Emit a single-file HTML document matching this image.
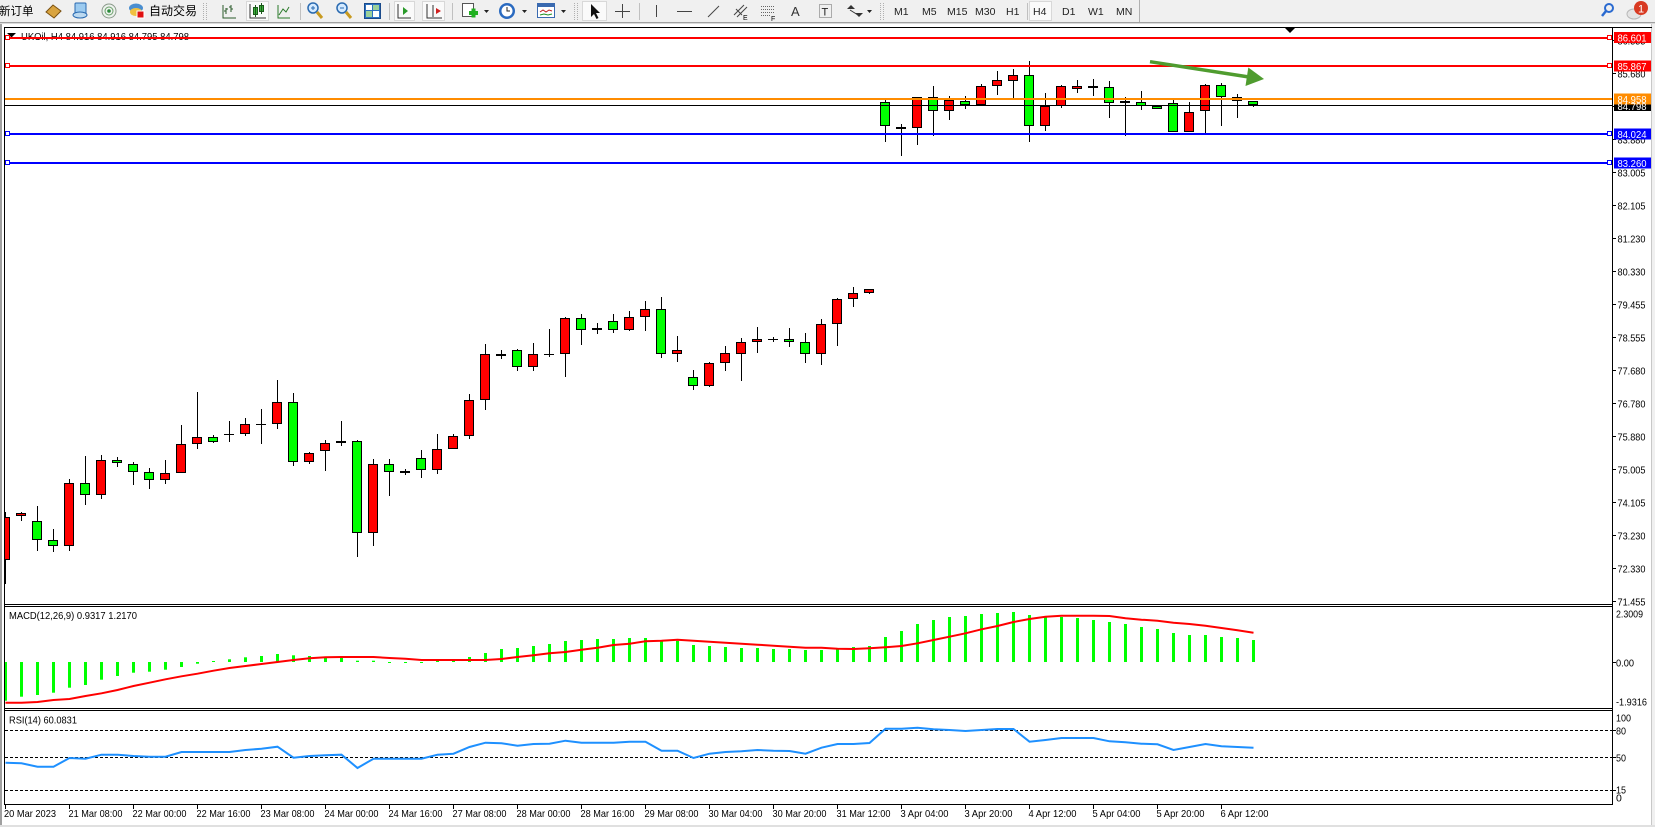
<!DOCTYPE html>
<html><head><meta charset="utf-8"><style>
html,body{margin:0;padding:0;background:#fff;width:1655px;height:827px;overflow:hidden}
svg{display:block}
text{font-family:"Liberation Sans","Noto Sans CJK SC",sans-serif}
</style></head><body>
<svg xmlns="http://www.w3.org/2000/svg" width="1655" height="827" viewBox="0 0 1655 827">
<defs>
<clipPath id="cm"><rect x="5" y="28" width="1607" height="576"/></clipPath>
<clipPath id="cd"><rect x="5" y="607" width="1607" height="101"/></clipPath>
<clipPath id="cr"><rect x="5" y="711" width="1607" height="93"/></clipPath>
</defs>
<rect width="1655" height="827" fill="#fff"/>
<!-- toolbar -->
<rect x="0" y="0" width="1655" height="22" fill="#f0f0f0"/>
<rect x="0" y="22" width="1655" height="1" fill="#a0a0a0"/>
<rect x="0" y="23" width="1655" height="1" fill="#dadada"/>
<g font-size="11.5" fill="#000">
<text x="-1" y="15" font-size="11.5">新订单</text>
<text x="149" y="15" font-size="12">自动交易</text>
</g>
<polygon points="46,12 53,5 61,11 54,18" fill="#d9a440" stroke="#7a5010"/>
<rect x="75" y="3" width="11" height="13" rx="1" fill="#9ccbf0" stroke="#2a6ab0"/>
<ellipse cx="80" cy="15" rx="7" ry="3" fill="#bcd9f0" stroke="#2a6ab0"/>
<circle cx="109" cy="11" r="7" fill="#eef2ee" stroke="#8a9a8a"/>
<circle cx="109" cy="11" r="4" fill="none" stroke="#6aa06a"/>
<circle cx="109" cy="11" r="1.8" fill="#2a8a3a"/>
<ellipse cx="136" cy="8" rx="7" ry="4.5" fill="#4a8ed0"/>
<ellipse cx="136" cy="12" rx="6" ry="4" fill="#f0c040"/>
<rect x="137" y="11" width="7" height="7" fill="#e01010" stroke="#fff"/>
<g stroke="#b0b0b0"><line x1="203.5" y1="3" x2="203.5" y2="20" stroke-dasharray="1,1"/><line x1="206.5" y1="3" x2="206.5" y2="20" stroke-dasharray="1,1"/></g>
<path d="M223 5V18H236 M226 14V8 M224 11H226 M226 9H228 M231 12V5 M229 7H231 M231 9H233" stroke="#2a5a2a" fill="none"/>
<rect x="246.5" y="1.5" width="22" height="19" fill="#fafafa" stroke="#d8d8d8"/>
<path d="M250 4V18H266" stroke="#333" fill="none"/>
<rect x="253.5" y="7.5" width="4" height="7" fill="#3ab03a" stroke="#1a5a1a"/><line x1="255.5" y1="5" x2="255.5" y2="17" stroke="#1a5a1a"/>
<rect x="259.5" y="5.5" width="4" height="6" fill="#3ab03a" stroke="#1a5a1a"/><line x1="261.5" y1="3" x2="261.5" y2="14" stroke="#1a5a1a"/>
<path d="M278 5V18H290 M279 15L283 9L286 12L289 7" stroke="#2a7a2a" fill="none"/>
<line x1="300.5" y1="3" x2="300.5" y2="20" stroke="#c0c0c0"/>
<circle cx="313" cy="8" r="5" fill="#d4eaff" stroke="#2a6ab0" stroke-width="1.5"/><path d="M311 8h4M313 6v4" stroke="#2a6ab0"/><line x1="317" y1="12" x2="322" y2="18" stroke="#c89a20" stroke-width="3"/>
<circle cx="342" cy="8" r="5" fill="#d4eaff" stroke="#2a6ab0" stroke-width="1.5"/><path d="M340 8h4" stroke="#2a6ab0"/><line x1="346" y1="12" x2="351" y2="18" stroke="#c89a20" stroke-width="3"/>
<rect x="364.5" y="3.5" width="16" height="15" fill="#2a70c0" stroke="#1a4a8a"/>
<rect x="366" y="5" width="6" height="5" fill="#fff"/><rect x="373" y="5" width="6" height="5" fill="#9ad09a"/><rect x="366" y="11" width="6" height="6" fill="#9ad09a"/><rect x="373" y="11" width="6" height="6" fill="#fff"/>
<line x1="389.5" y1="3" x2="389.5" y2="20" stroke="#c0c0c0"/>
<rect x="394.5" y="1.5" width="20" height="19" fill="#fafafa" stroke="#d8d8d8"/>
<path d="M398 4V18H411" stroke="#333" fill="none"/><polygon points="403,7 408,11 403,15" fill="#2a9a2a"/>
<rect x="422.5" y="1.5" width="22" height="19" fill="#fafafa" stroke="#d8d8d8"/>
<path d="M427 4V18H442 M433 5V17" stroke="#333" fill="none"/><polygon points="441,11 436,8 436,14" fill="#d02020"/>
<line x1="452.5" y1="3" x2="452.5" y2="20" stroke="#c0c0c0"/>
<rect x="462.5" y="3.5" width="11" height="13" fill="#fff" stroke="#555"/><path d="M469 13h9M473.5 8.5v9" stroke="#20b020" stroke-width="4"/>
<polygon points="484,10 489,10 486.5,13" fill="#222"/>
<circle cx="507" cy="11" r="8" fill="#2a6ac0"/><circle cx="507" cy="11" r="5.5" fill="#fff"/><path d="M507 7V11H510" stroke="#222" fill="none"/>
<polygon points="522,10 527,10 524.5,13" fill="#222"/>
<rect x="537.5" y="3.5" width="17" height="14" fill="#fff" stroke="#3a6ab0"/><rect x="538" y="4" width="16" height="3" fill="#3a6ab0"/><path d="M540 12l3-2 3 2 3-2 3 1" stroke="#c02020" fill="none"/><path d="M540 15l4-1 4 1 4-1" stroke="#209020" fill="none"/>
<polygon points="561,10 566,10 563.5,13" fill="#222"/>
<g stroke="#b0b0b0"><line x1="574.5" y1="3" x2="574.5" y2="20" stroke-dasharray="1,1"/><line x1="577.5" y1="3" x2="577.5" y2="20" stroke-dasharray="1,1"/></g>
<rect x="582.5" y="1.5" width="24" height="19" fill="#fafafa" stroke="#d8d8d8"/>
<polygon points="591,4 591,17 594,14 596.5,19 598.5,18 596,13 600,13" fill="#111"/>
<path d="M622.5 4V18 M615 11.5H630" stroke="#444"/>
<line x1="639.5" y1="3" x2="639.5" y2="20" stroke="#c0c0c0"/>
<line x1="656.5" y1="5" x2="656.5" y2="17" stroke="#444"/>
<line x1="677" y1="11.5" x2="692" y2="11.5" stroke="#444"/>
<line x1="708" y1="17" x2="719" y2="6" stroke="#444"/>
<path d="M734 15L744 5 M737 17L747 7 M736 9l6 6" stroke="#444" fill="none"/><text x="743" y="20" font-size="7">E</text>
<path d="M761 6.5h14M761 9.5h14M761 12.5h14M761 15.5h10" stroke="#666" stroke-dasharray="1,1"/><text x="771" y="21" font-size="7">F</text>
<text x="791" y="16" font-size="13" fill="#333">A</text>
<rect x="819.5" y="4.5" width="12" height="13" fill="none" stroke="#666" stroke-dasharray="1,1"/><text x="821.5" y="15.5" font-size="11" fill="#222">T</text>
<path d="M847 9l4-4 4 4z M855 13l4 4 4-4z" fill="#333"/><line x1="850" y1="10" x2="858" y2="15" stroke="#333"/>
<polygon points="867,10 872,10 869.5,13" fill="#222"/>
<g stroke="#b0b0b0"><line x1="880.5" y1="3" x2="880.5" y2="20" stroke-dasharray="1,1"/><line x1="883.5" y1="3" x2="883.5" y2="20" stroke-dasharray="1,1"/></g>
<rect x="1029.5" y="1.5" width="22" height="19" fill="#fafafa" stroke="#d8d8d8"/>
<g font-size="10.5" fill="#222">
<text x="894" y="15">M1</text><text x="922" y="15">M5</text><text x="947" y="15">M15</text><text x="975" y="15">M30</text><text x="1006" y="15">H1</text>
<text x="1033" y="15">H4</text><text x="1062" y="15">D1</text><text x="1088" y="15">W1</text><text x="1116" y="15">MN</text>
</g>
<line x1="1027.5" y1="3" x2="1027.5" y2="20" stroke="#c0c0c0"/>
<line x1="1139.5" y1="0" x2="1139.5" y2="22" stroke="#b0b0b0"/>
<circle cx="1609" cy="8" r="4" fill="none" stroke="#2a6ad0" stroke-width="2"/><line x1="1606" y1="11" x2="1602" y2="16" stroke="#2a6ad0" stroke-width="2.5"/>
<ellipse cx="1634" cy="14" rx="7" ry="5" fill="#e4e4e4" stroke="#b8b8b8"/>
<circle cx="1641" cy="8" r="7" fill="#d83a22"/><text x="1638" y="12.5" font-size="11" fill="#fff">1</text>

<!-- window frame -->
<rect x="0" y="24" width="2" height="803" fill="#a0a0a0"/>
<rect x="1651" y="24" width="4" height="803" fill="#f0f0f0"/>
<rect x="1651" y="24" width="1" height="803" fill="#c8c8c8"/>
<rect x="0" y="825" width="1655" height="2" fill="#e0e0e0"/>

<!-- chart frame -->
<rect x="4" y="27" width="1648" height="1" fill="#000"/>
<rect x="4" y="27" width="1" height="778" fill="#000"/>
<rect x="1612" y="27" width="1" height="778" fill="#000"/>
<rect x="4" y="604" width="1609" height="1" fill="#000"/>
<rect x="4" y="606" width="1609" height="1" fill="#000"/>
<rect x="4" y="708" width="1609" height="1" fill="#000"/>
<rect x="4" y="710" width="1609" height="1" fill="#000"/>
<rect x="4" y="804" width="1609" height="1" fill="#000"/>

<!-- title -->
<text x="21" y="40" font-size="10.5" fill="#000" textLength="168" lengthAdjust="spacingAndGlyphs">UKOil, H4  84.916 84.916 84.795 84.798</text>
<polygon points="7,33 16,33 11.5,37.5" fill="#000"/>
<polygon points="1285,28 1295,28 1290,33" fill="#000"/>

<!-- candles -->
<g clip-path="url(#cm)">
<path fill="none" stroke="#000" stroke-width="1" d="M5.5 512V584 M21.5 512V521 M37.5 506V551 M53.5 529V552 M69.5 479V551 M85.5 456V505 M101.5 455V499 M117.5 457V467 M133.5 462V485 M149.5 468V489 M165.5 460V484 M181.5 425V473 M197.5 392V449 M213.5 435V443 M229.5 421V442 M245.5 418V436 M261.5 409V444 M277.5 380V429 M293.5 393V466 M309.5 452V464 M325.5 440V471 M341.5 421V446 M357.5 440V557 M373.5 459V546 M389.5 459V496 M405.5 469V475 M421.5 450V478 M437.5 434V474 M453.5 434V449 M469.5 394V439 M485.5 344V410 M501.5 350V359 M517.5 349V371 M533.5 343V371 M549.5 329V357 M565.5 317V377 M581.5 314V345 M597.5 323V334 M613.5 314V333 M629.5 311V331 M645.5 301V331 M661.5 297V358 M677.5 336V362 M693.5 370V390 M709.5 362V387 M725.5 346V371 M741.5 338V381 M757.5 327V353 M773.5 337V342 M789.5 328V347 M805.5 333V363 M821.5 319V365 M837.5 298V346 M853.5 287V307 M869.5 289V294 M885.5 100V142 M901.5 124V156 M917.5 97V145 M933.5 86V136 M949.5 96V120 M965.5 96V109 M981.5 84V105 M997.5 71V95 M1013.5 69V98 M1029.5 61V142 M1045.5 93V131 M1061.5 85V108 M1077.5 80V93 M1093.5 79V96 M1109.5 81V118 M1125.5 97V136 M1141.5 91V110 M1157.5 106V109 M1173.5 100V132 M1189.5 102V132 M1205.5 84V133 M1221.5 83V126 M1237.5 94V118 M1253.5 101V107"/>
<path fill="none" stroke="#000" stroke-width="1" d="M224 434.5H234 M256 424.5H266 M544 354.5H554 M768 339.5H778"/>
<path fill="none" stroke="#000" stroke-width="2" d="M400 472H410 M496 355H506 M896 128H906 M1088 87H1098"/>
<g fill="#ff0000" stroke="#000" stroke-width="1">
<rect x="0.5" y="517.5" width="9" height="42"/>
<rect x="16.5" y="513.5" width="9" height="2"/>
<rect x="64.5" y="483.5" width="9" height="62"/>
<rect x="96.5" y="460.5" width="9" height="34"/>
<rect x="160.5" y="473.5" width="9" height="6"/>
<rect x="176.5" y="444.5" width="9" height="28"/>
<rect x="192.5" y="437.5" width="9" height="6"/>
<rect x="240.5" y="424.5" width="9" height="9"/>
<rect x="272.5" y="402.5" width="9" height="21"/>
<rect x="304.5" y="453.5" width="9" height="8"/>
<rect x="320.5" y="443.5" width="9" height="7"/>
<rect x="336.5" y="441.5" width="9" height="1"/>
<rect x="368.5" y="464.5" width="9" height="68"/>
<rect x="432.5" y="449.5" width="9" height="20"/>
<rect x="448.5" y="436.5" width="9" height="12"/>
<rect x="464.5" y="400.5" width="9" height="35"/>
<rect x="480.5" y="354.5" width="9" height="45"/>
<rect x="528.5" y="354.5" width="9" height="12"/>
<rect x="560.5" y="318.5" width="9" height="35"/>
<rect x="592.5" y="328.5" width="9" height="1"/>
<rect x="624.5" y="317.5" width="9" height="12"/>
<rect x="640.5" y="309.5" width="9" height="7"/>
<rect x="672.5" y="350.5" width="9" height="3"/>
<rect x="704.5" y="363.5" width="9" height="22"/>
<rect x="720.5" y="353.5" width="9" height="9"/>
<rect x="736.5" y="342.5" width="9" height="11"/>
<rect x="752.5" y="339.5" width="9" height="2"/>
<rect x="816.5" y="324.5" width="9" height="29"/>
<rect x="832.5" y="299.5" width="9" height="24"/>
<rect x="848.5" y="293.5" width="9" height="5"/>
<rect x="864.5" y="289.5" width="9" height="3"/>
<rect x="912.5" y="97.5" width="9" height="30"/>
<rect x="944.5" y="100.5" width="9" height="10"/>
<rect x="976.5" y="86.5" width="9" height="18"/>
<rect x="992.5" y="80.5" width="9" height="5"/>
<rect x="1008.5" y="75.5" width="9" height="5"/>
<rect x="1040.5" y="106.5" width="9" height="19"/>
<rect x="1056.5" y="86.5" width="9" height="19"/>
<rect x="1072.5" y="86.5" width="9" height="2"/>
<rect x="1120.5" y="101.5" width="9" height="1"/>
<rect x="1184.5" y="112.5" width="9" height="19"/>
<rect x="1200.5" y="85.5" width="9" height="25"/>
</g>
<g fill="#00ff00" stroke="#000" stroke-width="1">
<rect x="32.5" y="521.5" width="9" height="18"/>
<rect x="48.5" y="540.5" width="9" height="5"/>
<rect x="80.5" y="483.5" width="9" height="11"/>
<rect x="112.5" y="460.5" width="9" height="2"/>
<rect x="128.5" y="464.5" width="9" height="7"/>
<rect x="144.5" y="472.5" width="9" height="7"/>
<rect x="208.5" y="437.5" width="9" height="4"/>
<rect x="288.5" y="402.5" width="9" height="59"/>
<rect x="352.5" y="441.5" width="9" height="91"/>
<rect x="384.5" y="464.5" width="9" height="7"/>
<rect x="416.5" y="458.5" width="9" height="11"/>
<rect x="512.5" y="350.5" width="9" height="16"/>
<rect x="576.5" y="318.5" width="9" height="11"/>
<rect x="608.5" y="321.5" width="9" height="8"/>
<rect x="656.5" y="309.5" width="9" height="44"/>
<rect x="688.5" y="377.5" width="9" height="8"/>
<rect x="784.5" y="339.5" width="9" height="2"/>
<rect x="800.5" y="342.5" width="9" height="11"/>
<rect x="880.5" y="102.5" width="9" height="23"/>
<rect x="928.5" y="97.5" width="9" height="13"/>
<rect x="960.5" y="101.5" width="9" height="3"/>
<rect x="1024.5" y="75.5" width="9" height="50"/>
<rect x="1104.5" y="87.5" width="9" height="15"/>
<rect x="1136.5" y="102.5" width="9" height="3"/>
<rect x="1152.5" y="106.5" width="9" height="2"/>
<rect x="1168.5" y="103.5" width="9" height="28"/>
<rect x="1216.5" y="85.5" width="9" height="11"/>
<rect x="1232.5" y="97.5" width="9" height="3"/>
<rect x="1248.5" y="101.5" width="9" height="3"/>
</g>
</g>

<!-- price level lines -->
<rect x="5" y="105" width="1607" height="1" fill="#000"/>
<rect x="5" y="37" width="1607" height="2" fill="#ff0000"/>
<rect x="5" y="65" width="1607" height="2" fill="#ff0000"/>
<rect x="5" y="98" width="1607" height="2" fill="#ff8c00"/>
<rect x="5" y="133" width="1607" height="2" fill="#0000ff"/>
<rect x="5" y="162" width="1607" height="2" fill="#0000ff"/>
<g fill="#fff" stroke-width="1">
<rect x="5.5" y="35.5" width="4" height="4" stroke="#ff0000"/><rect x="1607.5" y="35.5" width="4" height="4" stroke="#ff0000"/>
<rect x="5.5" y="63.5" width="4" height="4" stroke="#ff0000"/><rect x="1607.5" y="63.5" width="4" height="4" stroke="#ff0000"/>
<rect x="5.5" y="131.5" width="4" height="4" stroke="#0000ff"/><rect x="1607.5" y="131.5" width="4" height="4" stroke="#0000ff"/>
<rect x="5.5" y="160.5" width="4" height="4" stroke="#0000ff"/><rect x="1607.5" y="160.5" width="4" height="4" stroke="#0000ff"/>
</g>

<!-- green arrow -->
<line x1="1150" y1="61.7" x2="1249" y2="77" stroke="#4f9c2f" stroke-width="3.5"/>
<polygon points="1264,79 1248.3,67.5 1245.5,86" fill="#4f9c2f"/>

<!-- price axis -->
<g stroke="#000">
<path d="M1613 40.5h3M1613 73.5h3M1613 106.5h3M1613 139.5h3M1613 172.5h3M1613 205.5h3M1613 238.5h3M1613 271.5h3M1613 304.5h3M1613 337.5h3M1613 370.5h3M1613 403.5h3M1613 436.5h3M1613 469.5h3M1613 502.5h3M1613 535.5h3M1613 568.5h3M1613 601.5h3"/>
</g>
<g font-size="10.5" fill="#000">
<text x="1617.5" y="44.3" textLength="28" lengthAdjust="spacingAndGlyphs">86.555</text>
<text x="1617.5" y="77.3" textLength="28" lengthAdjust="spacingAndGlyphs">85.680</text>
<text x="1617.5" y="110.3" textLength="28" lengthAdjust="spacingAndGlyphs">84.780</text>
<text x="1617.5" y="143.3" textLength="28" lengthAdjust="spacingAndGlyphs">83.880</text>
<text x="1617.5" y="176.3" textLength="28" lengthAdjust="spacingAndGlyphs">83.005</text>
<text x="1617.5" y="209.3" textLength="28" lengthAdjust="spacingAndGlyphs">82.105</text>
<text x="1617.5" y="242.3" textLength="28" lengthAdjust="spacingAndGlyphs">81.230</text>
<text x="1617.5" y="275.3" textLength="28" lengthAdjust="spacingAndGlyphs">80.330</text>
<text x="1617.5" y="308.3" textLength="28" lengthAdjust="spacingAndGlyphs">79.455</text>
<text x="1617.5" y="341.3" textLength="28" lengthAdjust="spacingAndGlyphs">78.555</text>
<text x="1617.5" y="374.3" textLength="28" lengthAdjust="spacingAndGlyphs">77.680</text>
<text x="1617.5" y="407.3" textLength="28" lengthAdjust="spacingAndGlyphs">76.780</text>
<text x="1617.5" y="440.3" textLength="28" lengthAdjust="spacingAndGlyphs">75.880</text>
<text x="1617.5" y="473.3" textLength="28" lengthAdjust="spacingAndGlyphs">75.005</text>
<text x="1617.5" y="506.3" textLength="28" lengthAdjust="spacingAndGlyphs">74.105</text>
<text x="1617.5" y="539.3" textLength="28" lengthAdjust="spacingAndGlyphs">73.230</text>
<text x="1617.5" y="572.3" textLength="28" lengthAdjust="spacingAndGlyphs">72.330</text>
<text x="1617.5" y="605.3" textLength="28" lengthAdjust="spacingAndGlyphs">71.455</text>
</g>
<!-- level label boxes -->
<rect x="1614" y="32" width="37" height="11" fill="#ff0000"/>
<rect x="1614" y="60.5" width="37" height="11" fill="#ff0000"/>
<rect x="1614" y="100" width="37" height="11" fill="#000"/>
<rect x="1614" y="93.5" width="37" height="11" fill="#ff8c00"/>
<rect x="1614" y="128.5" width="37" height="11" fill="#0000ff"/>
<rect x="1614" y="157.5" width="37" height="11" fill="#0000ff"/>
<g font-size="10.5" fill="#fff">
<text x="1617.5" y="41.5" textLength="29" lengthAdjust="spacingAndGlyphs">86.601</text>
<text x="1617.5" y="70" textLength="29" lengthAdjust="spacingAndGlyphs">85.867</text>
<text x="1617.5" y="110" textLength="29" lengthAdjust="spacingAndGlyphs">84.798</text>
<text x="1617.5" y="103" textLength="29" lengthAdjust="spacingAndGlyphs">84.958</text>
<text x="1617.5" y="138" textLength="29" lengthAdjust="spacingAndGlyphs">84.024</text>
<text x="1617.5" y="167" textLength="29" lengthAdjust="spacingAndGlyphs">83.260</text>
</g>

<!-- MACD -->
<text x="9" y="619" font-size="10.5" fill="#000" textLength="128" lengthAdjust="spacingAndGlyphs">MACD(12,26,9) 0.9317 1.2170</text>
<g clip-path="url(#cd)" fill="#00ff00">
<rect x="4" y="662" width="3" height="38.7"/><rect x="20" y="662" width="3" height="34.7"/><rect x="36" y="662" width="3" height="33"/><rect x="52" y="662" width="3" height="30.7"/>
<rect x="68" y="662" width="3" height="25.7"/><rect x="84" y="662" width="3" height="23"/><rect x="100" y="662" width="3" height="17.7"/><rect x="116" y="662" width="3" height="14"/>
<rect x="132" y="662" width="3" height="10.7"/><rect x="148" y="662" width="3" height="9.7"/><rect x="164" y="662" width="3" height="7.7"/><rect x="180" y="662" width="3" height="5"/>
<rect x="196" y="662" width="3" height="1.7"/><rect x="212" y="661" width="3" height="1"/><rect x="228" y="659.3" width="3" height="2.7"/><rect x="244" y="657.3" width="3" height="4.7"/>
<rect x="260" y="656" width="3" height="6"/><rect x="276" y="654" width="3" height="8"/><rect x="292" y="655.3" width="3" height="6.7"/><rect x="308" y="656" width="3" height="6"/>
<rect x="324" y="657.3" width="3" height="4.7"/><rect x="340" y="657.7" width="3" height="4.3"/><rect x="356" y="660.7" width="3" height="1.3"/><rect x="372" y="660.7" width="3" height="1.3"/>
<rect x="388" y="662" width="3" height="1"/><rect x="404" y="662" width="3" height="1"/><rect x="420" y="662" width="3" height="1"/><rect x="436" y="660.7" width="3" height="1.3"/>
<rect x="452" y="660.7" width="3" height="1.3"/><rect x="468" y="657" width="3" height="5"/><rect x="484" y="653" width="3" height="9"/><rect x="500" y="649" width="3" height="13"/>
<rect x="516" y="648" width="3" height="14"/><rect x="532" y="646" width="3" height="16"/><rect x="548" y="644" width="3" height="18"/><rect x="564" y="641" width="3" height="21"/>
<rect x="580" y="640" width="3" height="22"/><rect x="596" y="639" width="3" height="23"/><rect x="612" y="639" width="3" height="23"/><rect x="628" y="638" width="3" height="24"/>
<rect x="644" y="638" width="3" height="24"/><rect x="660" y="641" width="3" height="21"/><rect x="676" y="641" width="3" height="21"/><rect x="692" y="645" width="3" height="17"/>
<rect x="708" y="646" width="3" height="16"/><rect x="724" y="647" width="3" height="15"/><rect x="740" y="648" width="3" height="14"/><rect x="756" y="648" width="3" height="14"/>
<rect x="772" y="649" width="3" height="13"/><rect x="788" y="649" width="3" height="13"/><rect x="804" y="650" width="3" height="12"/><rect x="820" y="650" width="3" height="12"/>
<rect x="836" y="649" width="3" height="13"/><rect x="852" y="647" width="3" height="15"/><rect x="868" y="646" width="3" height="16"/><rect x="884" y="637" width="3" height="25"/>
<rect x="900" y="631" width="3" height="31"/><rect x="916" y="624" width="3" height="38"/><rect x="932" y="620" width="3" height="42"/><rect x="948" y="617" width="3" height="45"/>
<rect x="964" y="616" width="3" height="46"/><rect x="980" y="614" width="3" height="48"/><rect x="996" y="613" width="3" height="49"/><rect x="1012" y="612" width="3" height="50"/>
<rect x="1028" y="615" width="3" height="47"/><rect x="1044" y="617" width="3" height="45"/><rect x="1060" y="617" width="3" height="45"/><rect x="1076" y="618" width="3" height="44"/>
<rect x="1092" y="620" width="3" height="42"/><rect x="1108" y="622" width="3" height="40"/><rect x="1124" y="624" width="3" height="38"/><rect x="1140" y="627" width="3" height="35"/>
<rect x="1156" y="629" width="3" height="33"/><rect x="1172" y="633" width="3" height="29"/><rect x="1188" y="635" width="3" height="27"/><rect x="1204" y="635" width="3" height="27"/>
<rect x="1220" y="637" width="3" height="25"/><rect x="1236" y="638" width="3" height="24"/><rect x="1252" y="640" width="3" height="22"/>
<polyline fill="none" stroke="#ff0000" stroke-width="2" points="5.5,702.7 21.5,702.7 37.5,702 53.5,700 69.5,699 85.5,696 101.5,693.3 117.5,690 133.5,686 149.5,682.7 165.5,679.3 181.5,676.3 197.5,673.7 213.5,670.7 229.5,668 245.5,666 261.5,664 277.5,662 293.5,660 309.5,658.3 325.5,657.3 341.5,657 357.5,657 373.5,657 389.5,658 405.5,658.7 421.5,660 437.5,660 453.5,660 469.5,660 485.5,660 501.5,659 517.5,657 533.5,655.3 549.5,653.3 565.5,652 581.5,649.7 597.5,647.7 613.5,645 629.5,643.7 645.5,641.3 661.5,640.7 677.5,639.7 693.5,640.7 709.5,641.7 725.5,642.7 741.5,643.7 757.5,644.7 773.5,645.7 789.5,646.7 805.5,647.7 821.5,647.7 837.5,648.7 853.5,649 869.5,648.3 885.5,647.3 901.5,646 917.5,643.3 933.5,640 949.5,636.7 965.5,633.3 981.5,629.3 997.5,626 1013.5,622 1029.5,619 1045.5,616.7 1061.5,615.7 1077.5,615.7 1093.5,615.7 1109.5,616 1125.5,618.3 1141.5,619.7 1157.5,620.7 1173.5,622.7 1189.5,624 1205.5,625.7 1221.5,628 1237.5,630.3 1253.5,632.7"/>
</g>
<path d="M1613 662.5h3" stroke="#000"/>
<g font-size="10.5" fill="#000">
<text x="1616" y="617.5" textLength="27" lengthAdjust="spacingAndGlyphs">2.3009</text>
<text x="1616" y="666.3" textLength="18" lengthAdjust="spacingAndGlyphs">0.00</text>
<text x="1616" y="705.5" textLength="31" lengthAdjust="spacingAndGlyphs">-1.9316</text>
</g>

<!-- RSI -->
<text x="9" y="723.5" font-size="10.5" fill="#000" textLength="68" lengthAdjust="spacingAndGlyphs">RSI(14) 60.0831</text>
<g stroke="#000" stroke-width="1" stroke-dasharray="3,2">
<line x1="5" y1="730.5" x2="1612" y2="730.5"/>
<line x1="5" y1="757.5" x2="1612" y2="757.5"/>
<line x1="5" y1="790.5" x2="1612" y2="790.5"/>
</g>
<g clip-path="url(#cr)">
<polyline fill="none" stroke="#1e90ff" stroke-width="2" points="5.5,762.7 21.5,763.3 37.5,766.7 53.5,766.7 69.5,758 85.5,758.7 101.5,754.7 117.5,754.7 133.5,756 149.5,756.7 165.5,756.7 181.5,752 197.5,752 213.5,752 229.5,752 245.5,750 261.5,748.7 277.5,746.7 293.5,757.7 309.5,756 325.5,755.3 341.5,754.7 357.5,768 373.5,758.7 389.5,758.7 405.5,758.7 421.5,758.7 437.5,754.7 453.5,753.7 469.5,747 485.5,742.7 501.5,743.3 517.5,745.7 533.5,744 549.5,743.7 565.5,740.7 581.5,742.7 597.5,742.7 613.5,742.7 629.5,741.7 645.5,741.7 661.5,750.7 677.5,750.7 693.5,758 709.5,753.7 725.5,752 741.5,751.3 757.5,750 773.5,750.7 789.5,751 805.5,753.7 821.5,747.7 837.5,744 853.5,744 869.5,743 885.5,728.7 901.5,728.7 917.5,727.7 933.5,729.3 949.5,730 965.5,731 981.5,730 997.5,729 1013.5,729 1029.5,741.7 1045.5,740 1061.5,738 1077.5,738 1093.5,738 1109.5,741.3 1125.5,742.3 1141.5,743.7 1157.5,744.3 1173.5,750 1189.5,747 1205.5,744 1221.5,746.3 1237.5,747 1253.5,747.7"/>
</g>
<path d="M1613 730.5h3M1613 757.5h3M1613 790.5h3" stroke="#000"/>
<g font-size="10.5" fill="#000">
<text x="1616" y="721.3" textLength="15" lengthAdjust="spacingAndGlyphs">100</text>
<text x="1616" y="734.3" textLength="10" lengthAdjust="spacingAndGlyphs">80</text>
<text x="1616" y="761.5" textLength="10" lengthAdjust="spacingAndGlyphs">50</text>
<text x="1616" y="793.5" textLength="10" lengthAdjust="spacingAndGlyphs">15</text>
<text x="1616" y="801.5">0</text>
</g>

<!-- time axis -->
<path stroke="#000" d="M5.5 805v4M69.5 805v4M133.5 805v4M197.5 805v4M261.5 805v4M325.5 805v4M389.5 805v4M453.5 805v4M517.5 805v4M581.5 805v4M645.5 805v4M709.5 805v4M773.5 805v4M837.5 805v4M901.5 805v4M965.5 805v4M1029.5 805v4M1093.5 805v4M1157.5 805v4M1221.5 805v4"/>
<g font-size="10.5" fill="#000">
<text x="4" y="817" textLength="52" lengthAdjust="spacingAndGlyphs">20 Mar 2023</text>
<text x="68.5" y="817" textLength="54" lengthAdjust="spacingAndGlyphs">21 Mar 08:00</text>
<text x="132.5" y="817" textLength="54" lengthAdjust="spacingAndGlyphs">22 Mar 00:00</text>
<text x="196.5" y="817" textLength="54" lengthAdjust="spacingAndGlyphs">22 Mar 16:00</text>
<text x="260.5" y="817" textLength="54" lengthAdjust="spacingAndGlyphs">23 Mar 08:00</text>
<text x="324.5" y="817" textLength="54" lengthAdjust="spacingAndGlyphs">24 Mar 00:00</text>
<text x="388.5" y="817" textLength="54" lengthAdjust="spacingAndGlyphs">24 Mar 16:00</text>
<text x="452.5" y="817" textLength="54" lengthAdjust="spacingAndGlyphs">27 Mar 08:00</text>
<text x="516.5" y="817" textLength="54" lengthAdjust="spacingAndGlyphs">28 Mar 00:00</text>
<text x="580.5" y="817" textLength="54" lengthAdjust="spacingAndGlyphs">28 Mar 16:00</text>
<text x="644.5" y="817" textLength="54" lengthAdjust="spacingAndGlyphs">29 Mar 08:00</text>
<text x="708.5" y="817" textLength="54" lengthAdjust="spacingAndGlyphs">30 Mar 04:00</text>
<text x="772.5" y="817" textLength="54" lengthAdjust="spacingAndGlyphs">30 Mar 20:00</text>
<text x="836.5" y="817" textLength="54" lengthAdjust="spacingAndGlyphs">31 Mar 12:00</text>
<text x="900.5" y="817" textLength="48" lengthAdjust="spacingAndGlyphs">3 Apr 04:00</text>
<text x="964.5" y="817" textLength="48" lengthAdjust="spacingAndGlyphs">3 Apr 20:00</text>
<text x="1028.5" y="817" textLength="48" lengthAdjust="spacingAndGlyphs">4 Apr 12:00</text>
<text x="1092.5" y="817" textLength="48" lengthAdjust="spacingAndGlyphs">5 Apr 04:00</text>
<text x="1156.5" y="817" textLength="48" lengthAdjust="spacingAndGlyphs">5 Apr 20:00</text>
<text x="1220.5" y="817" textLength="48" lengthAdjust="spacingAndGlyphs">6 Apr 12:00</text>
</g>
</svg>
</body></html>
